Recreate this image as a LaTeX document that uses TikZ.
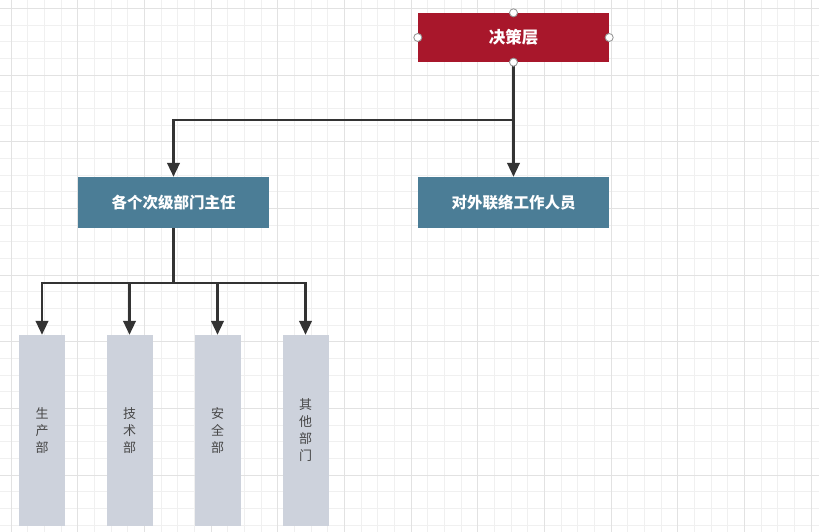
\documentclass[tikz,border=0pt]{standalone}
\usepackage{fontspec}
\setmainfont{Noto Sans CJK SC}
\usetikzlibrary{arrows.meta, positioning}
\usepackage{xcolor}
\definecolor{deciderred}{HTML}{A8172B}
\definecolor{chiefblue}{HTML}{4B7D96}
\definecolor{deptgrey}{HTML}{CDD2DC}
\definecolor{linkdark}{HTML}{333333}
\definecolor{gridminor}{HTML}{F0F0F0}
\definecolor{gridmajor}{HTML}{E2E2E2}

\begin{document}
\begin{tikzpicture}[x=1pt, y=-1pt,
      topbox/.style={rectangle, draw=none, fill=deciderred, text=white, minimum width=191pt, minimum height=49pt, align=center, font=\fontsize{16.5}{18}\selectfont\bfseries},
      midbox/.style={rectangle, draw=none, fill=chiefblue, text=white, minimum width=191pt, minimum height=51pt, align=center, font=\fontsize{15.5}{18}\selectfont\bfseries},
      deptbox/.style={rectangle, draw=none, fill=deptgrey, text=black!72, minimum width=46pt, minimum height=191pt, align=center, font=\fontsize{13}{17}\selectfont},
      arrow/.style={-{Triangle[length=14pt, width=12.5pt]}, line width=2.5pt, linkdark},
      handle/.style={circle, draw=black!40, fill=white, line width=0.9pt, inner sep=0pt, minimum size=8pt},
    ]
    \useasboundingbox (0,0) rectangle (819,532);
    % background grid
    \foreach \k in {0,...,48} {
      \draw[gridminor, line width=0.8pt] (11+16.667*\k,0) -- (11+16.667*\k,532);
    }
    \foreach \k in {0,...,31} {
      \draw[gridminor, line width=0.8pt] (0,8.5+16.667*\k) -- (819,8.5+16.667*\k);
    }
    \foreach \k in {0,...,12} {
      \draw[gridmajor, line width=1pt] (11+66.667*\k,0) -- (11+66.667*\k,532);
    }
    \foreach \k in {0,...,7} {
      \draw[gridmajor, line width=1pt] (0,8.5+66.667*\k) -- (819,8.5+66.667*\k);
    }

    \node[topbox] (board) at (513.5,37.5) {决策层};
    \node[midbox] (chief) at (173.5,202.5) {各个次级部门主任};
    \node[midbox] (liaison) at (513.5,202.5) {对外联络工作人员};

    \node[deptbox] (prod) at (42,430.5) {生\\产\\部};
    \node[deptbox] (tech) at (129.5,430.5) {技\\术\\部};
    \node[deptbox] (safe) at (217.5,430.5) {安\\全\\部};
    \node[deptbox] (other) at (305.5,430.5) {其\\他\\部\\门};

    \coordinate (split1) at (513.5,120);
    \coordinate (split2) at (173.5,283);

    \draw[linkdark, line width=2.5pt] (board.south) -- (split1);
    \draw[arrow] (split1) -| (chief.north);
    \draw[arrow] (split1) -- (liaison.north);

    \draw[linkdark, line width=2.5pt] (chief.south) -- (split2);
    \draw[arrow] (split2) -| (prod.north);
    \draw[arrow] (split2) -| (tech.north);
    \draw[arrow] (split2) -| (safe.north);
    \draw[arrow] (split2) -| (other.north);

    % selection handles
    \node[handle] at (board.west) {};
    \node[handle] at (board.east) {};
    \node[handle] at (board.north) {};
    \node[handle] at (board.south) {};
  \end{tikzpicture}
\end{document}
